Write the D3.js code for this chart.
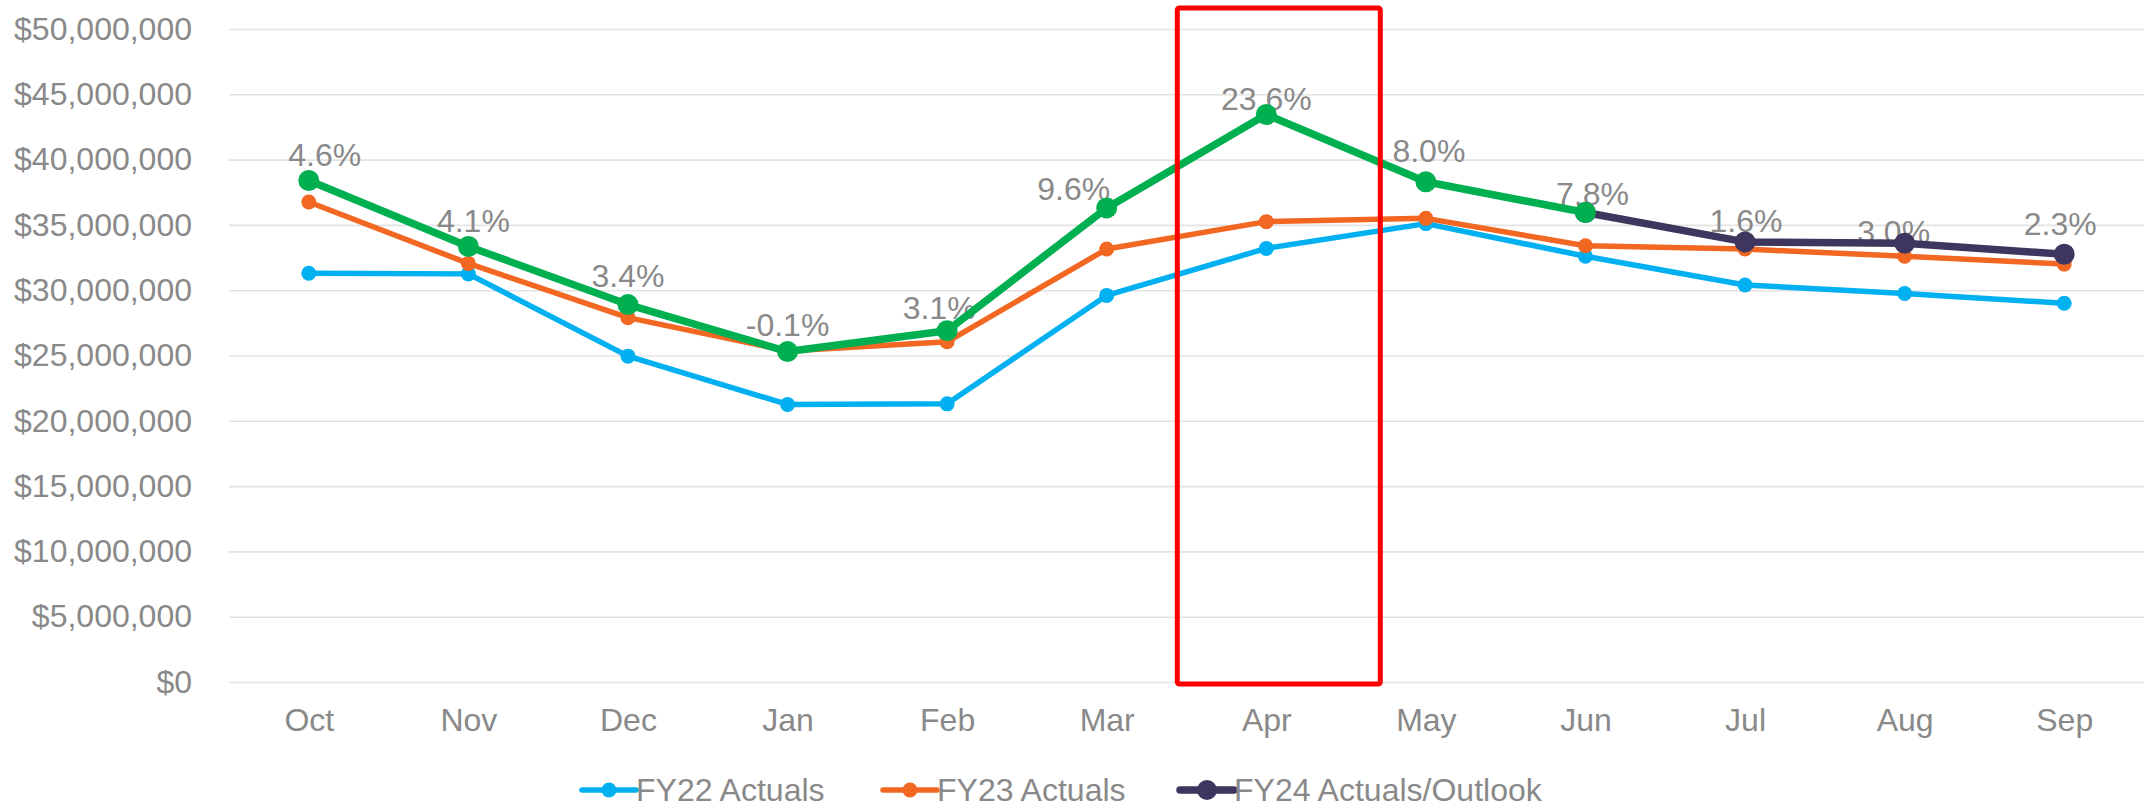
<!DOCTYPE html>
<html>
<head>
<meta charset="utf-8">
<script src="https://cdn.jsdelivr.net/npm/d3@7"></script>
<style>
  body { margin: 0; background: #fff; }
  svg { display: block; font-family: "Liberation Sans", Arial, sans-serif; }
</style>
</head>
<body>
<svg width="2146" height="808"></svg>
<script>
// data
var months = ["Oct", "Nov", "Dec", "Jan", "Feb", "Mar", "Apr", "May", "Jun", "Jul", "Aug", "Sep"];
var fy22 = [31.3, 31.25, 24.95, 21.25, 21.3, 29.6, 33.2, 35.1, 32.6, 30.4, 29.75, 29.0];
var fy23 = [36.75, 32.05, 27.9, 25.35, 26.05, 33.15, 35.25, 35.5, 33.4, 33.15, 32.6, 32.0];
var fy24 = [38.4, 33.35, 28.9, 25.3, 26.9, 36.3, 43.45, 38.3, 35.95, 33.7, 33.6, 32.75];
var fy24Actual = 9;   // Oct..Jun are actuals, Jun..Sep outlook
var growthLabels = ["4.6%", "4.1%", "3.4%", "-0.1%", "3.1%", "9.6%", "23.6%", "8.0%", "7.8%", "1.6%", "3.0%", "2.3%"];
var yTicks = [0, 5, 10, 15, 20, 25, 30, 35, 40, 45, 50];

// label nudges (px) so they sit like the original
var labelDx = [16, 5, 0, 0, -8, -33, 0, 3, 7, 1, -11, -4];
var labelDy = [26, 26, 29, 27, 23, 19, 16, 31, 19, 21, 11, 30];

var svg = d3.select("svg"),
    plotLeft = 229, plotRight = 2144, plotTop = 29, plotBottom = 682;

var textColor = "#898989",
    gridColor = "#e3e3e3",
    fontSize = 32;

var x = d3.scalePoint()
    .domain(months)
    .range([plotLeft, plotRight])
    .padding(0.5);

var y = d3.scaleLinear()
    .domain([0, 50])
    .range([plotBottom, plotTop]);

// y axis with gridlines
var yAxis = svg.append("g")
    .attr("transform", "translate(" + plotLeft + ",0)")
    .call(d3.axisLeft(y)
      .tickValues(yTicks)
      .tickSize(-(plotRight - plotLeft))
      .tickPadding(37)
      .tickFormat(function(d) { return "$" + d3.format(",")(d * 1e6); }));
yAxis.select(".domain").remove();
yAxis.selectAll("line").attr("stroke", gridColor).attr("stroke-width", 1.6);
yAxis.selectAll("text")
    .attr("fill", textColor)
    .attr("font-size", fontSize)
    .attr("font-family", "Liberation Sans, Arial, sans-serif");

// x axis
var xAxis = svg.append("g")
    .attr("transform", "translate(0," + plotBottom + ")")
    .call(d3.axisBottom(x).tickSize(0).tickPadding(26));
xAxis.select(".domain").remove();
xAxis.selectAll("text")
    .attr("fill", textColor)
    .attr("font-size", fontSize)
    .attr("font-family", "Liberation Sans, Arial, sans-serif");

// data labels for FY24 growth (drawn under the lines)
svg.append("g")
    .selectAll("text")
    .data(growthLabels)
    .enter().append("text")
      .attr("x", function(d, i) { return x(months[i]) + labelDx[i]; })
      .attr("y", function(d, i) { return y(fy24[i]) - labelDy[i]; })
      .attr("dy", "0.35em")
      .attr("text-anchor", "middle")
      .attr("fill", textColor)
      .attr("font-size", fontSize)
      .text(function(d) { return d; });

var line = d3.line()
    .x(function(d) { return x(d.m); })
    .y(function(d) { return y(d.v); });

function toPoints(arr) {
  return arr.map(function(v, i) { return {m: months[i], v: v}; });
}

function drawSeries(points, color, width, r) {
  var g = svg.append("g");
  g.append("path")
      .datum(points)
      .attr("fill", "none")
      .attr("stroke", color)
      .attr("stroke-width", width)
      .attr("stroke-linejoin", "round")
      .attr("d", line);
  g.selectAll("circle")
      .data(points)
      .enter().append("circle")
      .attr("cx", function(d) { return x(d.m); })
      .attr("cy", function(d) { return y(d.v); })
      .attr("r", r)
      .attr("fill", color);
}

var pts24 = toPoints(fy24);

drawSeries(toPoints(fy22), "#00b0f0", 5.5, 7.5);
drawSeries(toPoints(fy23), "#f26722", 5.5, 7.5);
drawSeries(pts24.slice(fy24Actual - 1), "#3e365e", 7.5, 10.5);
drawSeries(pts24.slice(0, fy24Actual), "#00b050", 7.5, 10.5);

// red highlight box around April
var xApr = x("Apr");
svg.append("rect")
    .attr("x", xApr - 89)
    .attr("y", 8)
    .attr("width", 203)
    .attr("height", plotBottom + 2 - 8)
    .attr("rx", 2)
    .attr("fill", "none")
    .attr("stroke", "#ff0000")
    .attr("stroke-width", 5);

// legend
var legendItems = [
  {name: "FY22 Actuals", color: "#00b0f0", x: 582, w: 5.5, r: 7.5},
  {name: "FY23 Actuals", color: "#f26722", x: 883, w: 5.5, r: 7.5},
  {name: "FY24 Actuals/Outlook", color: "#3e365e", x: 1180, w: 7.5, r: 10}
];
var legend = svg.append("g")
    .selectAll("g")
    .data(legendItems)
    .enter().append("g")
      .attr("transform", function(d) { return "translate(" + d.x + ",790)"; });

legend.append("line")
    .attr("x1", 0).attr("x2", 54)
    .attr("stroke", function(d) { return d.color; })
    .attr("stroke-width", function(d) { return d.w; })
    .attr("stroke-linecap", "round");
legend.append("circle")
    .attr("cx", 27)
    .attr("r", function(d) { return d.r; })
    .attr("fill", function(d) { return d.color; });
legend.append("text")
    .attr("x", 54)
    .attr("dy", "0.35em")
    .attr("fill", textColor)
    .attr("font-size", fontSize)
    .text(function(d) { return d.name; });
</script>
</body>
</html>
